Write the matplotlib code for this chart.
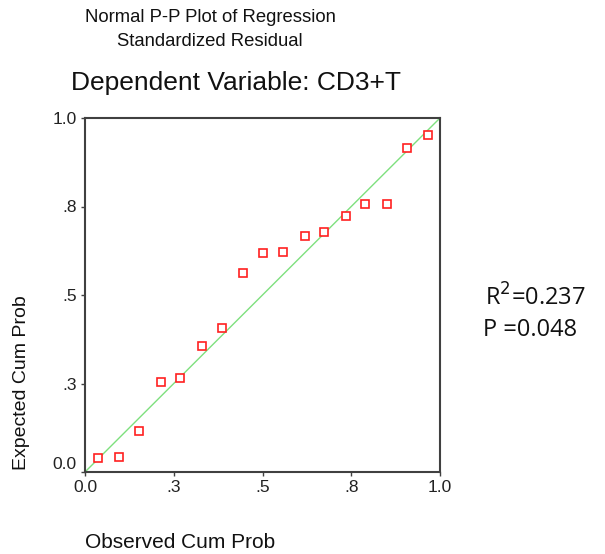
import matplotlib
matplotlib.use("Agg")
import matplotlib.pyplot as plt

# Observed vs expected cumulative probabilities
observed = [0.036, 0.097, 0.152, 0.213, 0.269, 0.329, 0.385, 0.444, 0.501,
            0.558, 0.619, 0.673, 0.734, 0.790, 0.851, 0.907, 0.966]
expected = [0.039, 0.042, 0.115, 0.254, 0.266, 0.357, 0.408, 0.563, 0.620,
            0.622, 0.666, 0.679, 0.722, 0.757, 0.757, 0.915, 0.951]

tick_values = [0.0, 0.25, 0.5, 0.75, 1.0]
tick_labels = ["0.0", ".3", ".5", ".8", "1.0"]

plt.rcParams['font.family'] = ['Liberation Sans', 'DejaVu Sans']

fig = plt.figure(figsize=(6.05, 5.54), dpi=100)
ax = fig.add_axes([85 / 605, 82 / 554, 355 / 605, 354 / 554])

# Reference diagonal
ax.plot([0, 1], [0, 1], color='#7ee07e', linewidth=1.0, zorder=2)

# Points as open red squares
ax.plot(observed, expected, linestyle='none', marker='s', markersize=6,
        markerfacecolor='white', markeredgecolor='#ff2020', markeredgewidth=1.2,
        zorder=3)

ax.set_xlim(0, 1)
ax.set_ylim(0, 1)
ax.set_xticks(tick_values)
ax.set_xticklabels(tick_labels)
ax.set_yticks(tick_values)
ax.set_yticklabels(tick_labels)
ax.tick_params(direction='out', length=3, width=1, color='#404040',
               labelsize=12.5, labelcolor='#222222', pad=3)
# SPSS draws the bottom y label a little above its tick
ax.get_yticklabels()[0].set_va('bottom')
for spine in ax.spines.values():
    spine.set_color('#404040')
    spine.set_linewidth(1.5)

# Titles
fig.text(210 / 605, 1 - 17 / 554, "Normal P-P Plot of Regression",
         ha='center', va='center', fontsize=13.3, color='#111111')
fig.text(210 / 605, 1 - 42 / 554, "Standardized Residual",
         ha='center', va='center', fontsize=13.3, color='#111111')
fig.text(236 / 605, 1 - 83 / 554, "Dependent Variable: CD3+T",
         ha='center', va='center', fontsize=19, color='#111111')

# Axis labels
fig.text(22 / 605, 1 - 470 / 554, "Expected Cum Prob", rotation=90,
         ha='center', va='bottom', fontsize=14, color='#111111')
fig.text(85 / 605, 1 - 542 / 554, "Observed Cum Prob",
         ha='left', va='center', fontsize=15, color='#111111')

# Statistics annotation
fig.text(485 / 605, 1 - 298 / 554, "R$^2$=0.237", family='Open Sans',
         ha='left', va='center', fontsize=17, color='#111111')
fig.text(483 / 605, 1 - 330 / 554, "P =0.048", family='Open Sans',
         ha='left', va='center', fontsize=17, color='#111111')

fig.savefig("out.png", dpi=100)
